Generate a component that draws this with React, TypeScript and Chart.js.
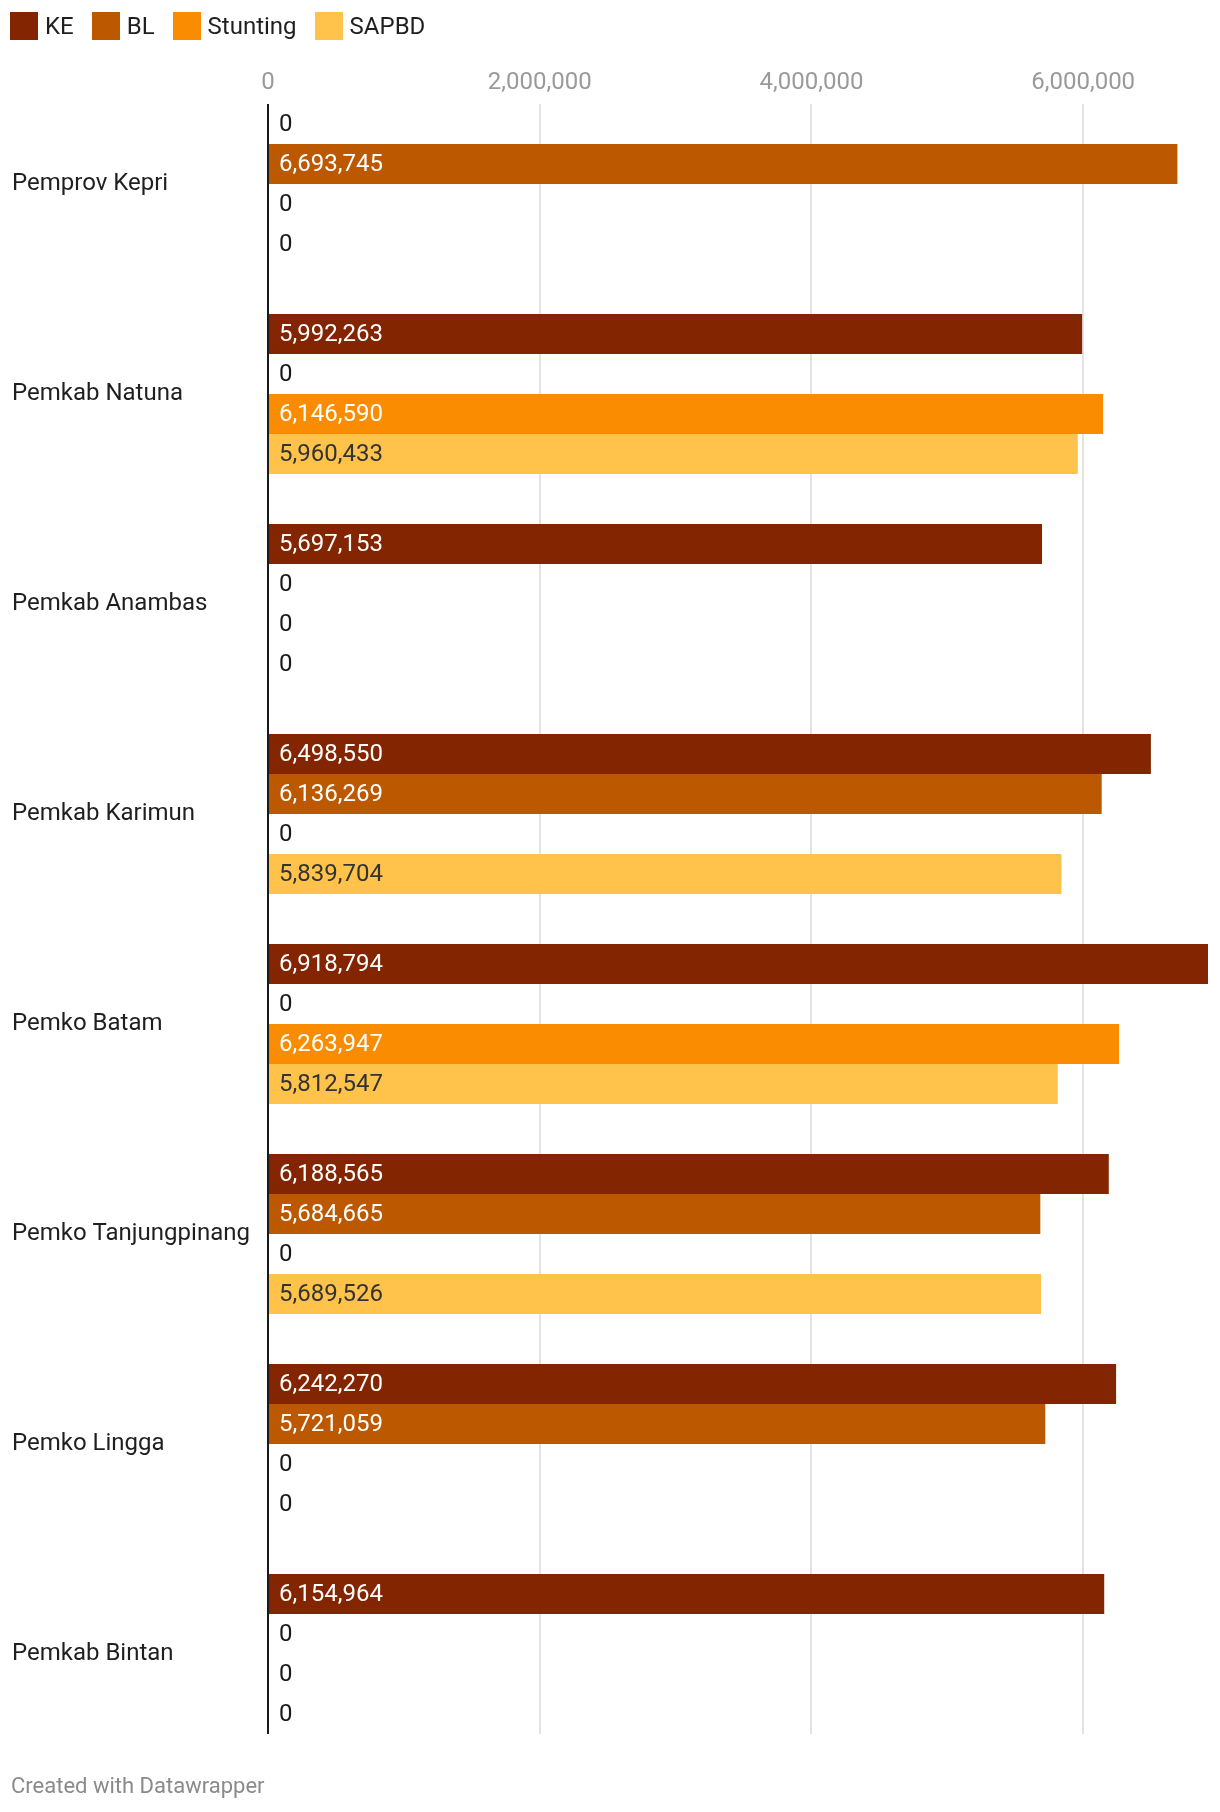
import React, { useEffect, useRef } from "react";
import { Chart, registerables } from "chart.js";

Chart.register(...registerables);

// ---- Data ----
const categories = [
  "Pemprov Kepri",
  "Pemkab Natuna",
  "Pemkab Anambas",
  "Pemkab Karimun",
  "Pemko Batam",
  "Pemko Tanjungpinang",
  "Pemko Lingga",
  "Pemkab Bintan",
];
const seriesNames = ["KE", "BL", "Stunting", "SAPBD"];
const keValues = [0, 5992263, 5697153, 6498550, 6918794, 6188565, 6242270, 6154964];
const blValues = [6693745, 0, 0, 6136269, 0, 5684665, 5721059, 0];
const stuntingValues = [0, 6146590, 0, 0, 6263947, 0, 0, 0];
const sapbdValues = [0, 5960433, 0, 5839704, 5812547, 5689526, 0, 0];
const xTickValues = [0, 2000000, 4000000, 6000000];
const footerText = "Created with Datawrapper";

// ---- Styles ----
const seriesColors = ["#832500", "#bb5800", "#f98c00", "#ffc24b"];
const labelColors = ["#ffffff", "#ffffff", "#ffffff", "#333333"];
const FONT = "Roboto, 'Noto Sans', sans-serif";
const FS = 24;

const fmt = (v: number) => v.toLocaleString("en-US");

const overlayPlugin = {
  id: "overlay",
  beforeDatasetsDraw(chart: any) {
    const { ctx, scales } = chart;
    const x = scales.x;
    const first = chart.getDatasetMeta(0).data[0];
    const last = chart.getDatasetMeta(3).data[categories.length - 1];
    const top = first.y - first.height / 2;
    const bottom = last.y + last.height / 2;
    ctx.save();
    ctx.strokeStyle = "#e3e3e3";
    ctx.lineWidth = 2;
    xTickValues.forEach((v) => {
      if (v === 0) return;
      const px = Math.round(x.getPixelForValue(v));
      ctx.beginPath();
      ctx.moveTo(px, top);
      ctx.lineTo(px, bottom);
      ctx.stroke();
    });
    ctx.restore();
  },
  afterDatasetsDraw(chart: any) {
    const { ctx, scales } = chart;
    const x = scales.x;
    const first = chart.getDatasetMeta(0).data[0];
    const last = chart.getDatasetMeta(3).data[categories.length - 1];
    const top = first.y - first.height / 2;
    const bottom = last.y + last.height / 2;
    const x0 = x.getPixelForValue(0);
    ctx.save();
    ctx.strokeStyle = "#1a1a1a";
    ctx.lineWidth = 2;
    ctx.beginPath();
    ctx.moveTo(x0, top);
    ctx.lineTo(x0, bottom);
    ctx.stroke();
    ctx.font = `${FS}px ${FONT}`;
    ctx.textAlign = "left";
    ctx.textBaseline = "middle";
    chart.data.datasets.forEach((ds: any, di: number) => {
      const meta = chart.getDatasetMeta(di);
      meta.data.forEach((el: any, i: number) => {
        const v = ds.data[i] as number;
        ctx.fillStyle = v > 0 ? labelColors[di] : "#1a1a1a";
        ctx.fillText(fmt(v), x0 + 11, el.y + 1);
      });
    });
    ctx.restore();
  },
};

export default function App() {
  const ref = useRef<HTMLCanvasElement | null>(null);

  useEffect(() => {
    if (!ref.current) return;
    const all = [keValues, blValues, stuntingValues, sapbdValues];
    const maxVal = Math.max(...all.flat());
    const chart = new Chart(ref.current, {
      type: "bar",
      data: {
        labels: categories,
        datasets: all.map((vals, i) => ({
          label: seriesNames[i],
          data: vals,
          backgroundColor: seriesColors[i],
          borderWidth: 0,
          categoryPercentage: 160 / 210,
          barPercentage: 1,
        })),
      },
      options: {
        indexAxis: "y",
        responsive: false,
        animation: false,
        devicePixelRatio: 1,
        layout: { padding: { left: 12, right: 12, top: 39, bottom: 53 } },
        plugins: {
          legend: { display: false },
          tooltip: { enabled: false },
        },
        scales: {
          x: {
            type: "linear",
            position: "top",
            min: 0,
            max: maxVal,
            afterFit: (s: any) => {
              s.height = 40;
            },
            afterBuildTicks: (s: any) => {
              s.ticks = xTickValues.map((v) => ({ value: v }));
            },
            grid: { display: false, drawTicks: false },
            border: { display: false },
            ticks: {
              mirror: true,
              padding: -10,
              color: "#9a9a9a",
              font: { family: FONT, size: FS },
              callback: (v: any) => fmt(Number(v)),
              maxRotation: 0,
            },
          },
          y: {
            type: "category",
            afterFit: (s: any) => {
              s.width = 256;
            },
            grid: { display: false, drawTicks: false },
            border: { display: false },
            ticks: {
              crossAlign: "far",
              padding: 0,
              color: "#1f1f1f",
              font: { family: FONT, size: FS },
            },
          },
        },
      },
      plugins: [overlayPlugin],
    });
    return () => chart.destroy();
  }, []);

  return (
    <div
      style={{
        position: "absolute",
        left: 0,
        top: 0,
        width: 1220,
        height: 1812,
        background: "#ffffff",
        fontFamily: FONT,
      }}
    >
      <canvas
        ref={ref}
        width={1220}
        height={1812}
        style={{ position: "absolute", left: 0, top: 0, width: 1220, height: 1812 }}
      />
      <div
        style={{
          position: "absolute",
          left: 10,
          top: 12,
          height: 28,
          display: "flex",
          alignItems: "center",
          fontSize: FS,
          color: "#1f1f1f",
        }}
      >
        {seriesNames.map((n, i) => (
          <div key={n} style={{ display: "flex", alignItems: "center", marginRight: 18 }}>
            <span
              style={{
                display: "inline-block",
                width: 28,
                height: 28,
                background: seriesColors[i],
                marginRight: 7,
              }}
            />
            <span>{n}</span>
          </div>
        ))}
      </div>
      <div
        style={{
          position: "absolute",
          left: 11,
          top: 1772,
          fontSize: 22,
          lineHeight: "28px",
          color: "#8a8a8a",
        }}
      >
        {footerText}
      </div>
    </div>
  );
}
